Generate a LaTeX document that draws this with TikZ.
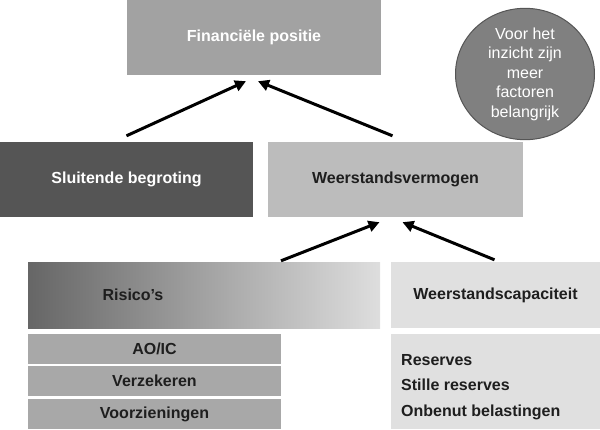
\documentclass[tikz,border=0pt]{standalone}
\usepackage{fontspec}
\setmainfont{Liberation Sans}
\usetikzlibrary{arrows.meta,shapes.geometric}
\definecolor{cFin}{HTML}{A2A2A2}
\definecolor{cSlu}{HTML}{555555}
\definecolor{cWv}{HTML}{BCBCBC}
\definecolor{cRisL}{HTML}{666666}
\definecolor{cRisR}{HTML}{DEDEDE}
\definecolor{cCap}{HTML}{E0E0E0}
\definecolor{cSub}{HTML}{A8A8A8}
\definecolor{cEll}{HTML}{808080}
\definecolor{cEllB}{HTML}{555555}
\definecolor{cTxt}{HTML}{1E1E1E}
\tikzset{
  box/.style={rectangle, inner sep=0pt, anchor=center, font=\fontsize{16}{19.5}\selectfont\bfseries},
  arr/.style={line width=3pt, -{Triangle[length=11pt,width=11pt]}, black},
}
\begin{document}
\begin{tikzpicture}[x=1pt,y=-1pt]
\useasboundingbox (0,0) rectangle (600,429);
% top
\node[box, fill=cFin, text=white, minimum width=254pt, minimum height=75pt] (fin) at (254,37.5) {Financi\"ele positie};
% ellipse
\node[ellipse, fill=cEll, draw=cEllB, line width=1pt, minimum width=139pt, minimum height=112pt, inner sep=0pt, align=center, text=white, font=\fontsize{16}{19.5}\selectfont] (ell) at (525,74) {Voor het\\inzicht zijn\\meer\\factoren\\belangrijk};
% middle
\node[box, fill=cSlu, text=white, minimum width=253pt, minimum height=75pt] (slu) at (126.5,179.5) {Sluitende begroting};
\node[box, fill=cWv, text=cTxt, minimum width=255pt, minimum height=75pt] (wv) at (395.5,179.5) {Weerstandsvermogen};
% lower
\node[rectangle, inner sep=0pt, left color=cRisL, right color=cRisR, minimum width=352pt, minimum height=66pt] (ris) at (204,295) {};
\node[box, text=cTxt] (rist) at (133,295) {Risico's};
\node[box, fill=cCap, text=cTxt, minimum width=209pt, minimum height=66pt] (cap) at (495.5,295) {Weerstandscapaciteit};
\node[box, fill=cSub, text=cTxt, minimum width=253pt, minimum height=30pt] (aoic) at (154.5,348.5) {AO/IC};
\node[box, fill=cSub, text=cTxt, minimum width=253pt, minimum height=30pt] (verz) at (154.5,381) {Verzekeren};
\node[box, fill=cSub, text=cTxt, minimum width=253pt, minimum height=30pt] (voor) at (154.5,414) {Voorzieningen};
\node[rectangle, inner sep=0pt, fill=cCap, minimum width=209pt, minimum height=95pt] (resb) at (495.5,381.5) {};
\node[anchor=west, inner sep=0pt, align=left, text=cTxt, font=\fontsize{16}{25.5}\selectfont\bfseries] (rest) at (401,387) {Reserves\\Stille reserves\\Onbenut belastingen};
% arrows
\draw[arr] ([yshift=6pt]slu.north) -- ([xshift=-8pt,yshift=-6pt]fin.south);
\draw[arr] ([xshift=-3pt,yshift=6pt]wv.north) -- ([xshift=4pt,yshift=-6pt]fin.south);
\draw[arr] ([xshift=77pt,yshift=1pt]ris.north) -- ([xshift=-16pt,yshift=-5pt]wv.south);
\draw[arr] ([xshift=-1pt,yshift=2pt]cap.north) -- ([xshift=7pt,yshift=-5pt]wv.south);
\end{tikzpicture}
\end{document}
